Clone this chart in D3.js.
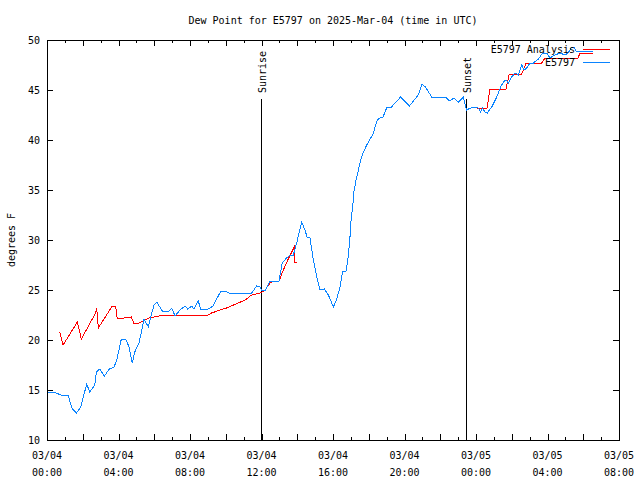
<!DOCTYPE html>
<html>
<head>
<meta charset="utf-8">
<script src="https://cdn.jsdelivr.net/npm/d3@7"></script>
<style>
  html, body { margin: 0; padding: 0; background: #fff; }
  svg { display: block; }
  text { font-family: "DejaVu Sans Mono", "Liberation Mono", monospace; font-size: 10px; fill: #000; }
</style>
</head>
<body>
<svg id="chart" width="640" height="480"></svg>
<script>
// ---- data (hours after 2025-03-04 00:00 UTC) ----
const titleText = "Dew Point for E5797 on 2025-Mar-04 (time in UTC)";
const yLabel = "degrees F";
const obsName = "E5797";
const anaName = "E5797 Analysis";

const obsHours = [0.06,0.39,0.77,0.99,1.17,1.42,1.64,1.89,2.22,2.39,2.67,2.76,2.95,3.21,3.49,3.75,3.90,4.16,4.40,4.59,4.77,4.91,5.15,5.43,5.67,5.83,5.99,6.14,6.45,6.83,6.98,7.16,7.44,7.72,7.87,8.10,8.22,8.46,8.60,9.02,9.30,9.49,9.73,9.96,10.18,11.45,11.73,11.92,12.01,12.22,12.48,12.98,13.16,13.35,13.59,13.78,13.97,14.10,14.25,14.43,14.55,14.71,14.90,15.09,15.27,15.51,15.74,16.02,16.21,16.39,16.53,16.74,16.86,16.95,17.01,17.10,17.17,17.29,17.42,17.55,17.70,17.89,18.07,18.25,18.35,18.48,18.63,18.80,19.02,19.27,19.78,20.27,20.77,20.98,21.17,21.52,22.29,22.53,22.77,23.01,23.29,23.47,23.70,24.09,24.26,24.37,24.50,24.63,24.88,25.16,25.38,25.53,25.68,25.81,26.00,26.18,26.37,26.56,26.69,26.84,27.02,27.21,27.49,27.73,27.96,28.14,28.42,28.70,28.98,29.16,29.35,29.50,29.59,30.53];
const obsDewpt = [14.7,14.8,14.5,14.4,14.5,13.1,12.7,13.3,15.6,14.8,15.5,16.8,17.1,16.4,17.1,17.3,18.0,20.1,20.1,19.3,17.7,18.8,19.7,22.1,21.3,22.5,23.5,23.8,22.9,22.9,23.2,22.4,23.0,23.4,23.1,23.4,23.1,23.9,23.1,23.1,23.4,24.1,24.9,24.9,24.7,24.7,25.4,25.3,25.0,25.0,25.9,25.9,27.7,28.1,28.5,28.5,29.7,30.7,31.8,31.0,30.3,30.2,28.0,26.3,25.0,25.1,24.5,23.3,24.1,25.3,26.8,26.9,28.5,30.3,32.0,33.3,34.8,36.0,37.0,38.0,38.8,39.5,40.1,40.6,41.3,42.0,42.2,42.3,43.3,43.3,44.3,43.4,44.5,45.6,45.3,44.3,44.3,43.9,44.2,43.8,44.3,43.0,43.2,43.3,42.8,43.2,42.8,42.7,43.3,44.3,45.3,45.8,46.0,45.7,46.3,46.7,46.5,47.5,47.0,47.2,47.7,47.7,48.1,48.7,48.7,48.2,48.5,48.7,48.5,48.7,49.3,49.3,48.9,48.9];

const anaHours = [0.71,0.90,1.70,1.92,2.72,2.78,2.87,3.65,3.84,3.93,4.31,4.72,4.87,5.15,5.47,5.71,5.99,6.51,8.37,8.93,9.21,9.68,10.05,10.70,11.08,11.45,11.92,12.20,12.48,12.66,12.98,13.22,13.47,13.69,13.83,13.87,14.00,19.00,24.06,24.62,24.78,25.68,25.86,26.56,26.80,27.68,27.86,29.71,29.82,30.52];
const anaDewpt = [20.8,19.5,21.8,20.1,22.7,23.2,21.2,23.4,23.4,22.1,22.2,22.3,21.6,21.7,22.0,22.2,22.3,22.5,22.5,22.4,22.7,23.0,23.2,23.7,24.0,24.5,24.7,25.0,25.7,25.9,25.9,27.0,28.0,28.8,29.3,27.8,27.8,null,43.2,43.2,45.1,45.1,46.6,46.6,47.7,47.7,48.2,48.2,48.7,48.7];

const sunLabels = ["Sunrise", "Sunset"];
const sunHours = [11.97, 23.44];

const yTicks = [10,15,20,25,30,35,40,45,50];
const xLabelHours = [0,4,8,12,16,20,24,28,32];

// ---- layout ----
const L = 47, R = 619, T = 40, B = 440;
const t0 = Date.UTC(2025, 2, 4, 0, 0);
const toDate = h => new Date(t0 + h * 3600e3);

const svg = d3.select("#chart");
const x = d3.scaleUtc().domain([toDate(0), toDate(32)]).range([L, R]);
const y = d3.scaleLinear().domain([10, 50]).range([B, T]);

// title
svg.append("text").attr("x", (L + R) / 2).attr("y", 24)
  .attr("text-anchor", "middle").text(titleText);

// y axis label
svg.append("text").attr("transform", `translate(15,240) rotate(-90)`)
  .attr("text-anchor", "middle").text(yLabel);

const g = svg.append("g").attr("shape-rendering", "crispEdges");

// x ticks (hourly minor, 2-hourly major), mirrored top and bottom
const hourTicks = d3.range(0, 33).map(toDate);
const len = d => (d.getUTCHours() % 2 === 0 ? 6 : 3);
g.append("g").selectAll("line.xb").data(hourTicks).join("line")
  .attr("x1", d => Math.round(x(d)) + 0.5).attr("x2", d => Math.round(x(d)) + 0.5)
  .attr("y1", B).attr("y2", d => B - len(d)).attr("stroke", "#000");
g.append("g").selectAll("line.xt").data(hourTicks).join("line")
  .attr("x1", d => Math.round(x(d)) + 0.5).attr("x2", d => Math.round(x(d)) + 0.5)
  .attr("y1", T).attr("y2", d => T + len(d)).attr("stroke", "#000");

// y ticks mirrored
g.append("g").selectAll("line").data(yTicks).join("line")
  .attr("x1", L).attr("x2", L + 6)
  .attr("y1", d => Math.round(y(d)) + 0.5).attr("y2", d => Math.round(y(d)) + 0.5).attr("stroke", "#000");
g.append("g").selectAll("line").data(yTicks).join("line")
  .attr("x1", R - 6).attr("x2", R)
  .attr("y1", d => Math.round(y(d)) + 0.5).attr("y2", d => Math.round(y(d)) + 0.5).attr("stroke", "#000");

// y tick labels
svg.append("g").selectAll("text").data(yTicks).join("text")
  .attr("x", L - 7).attr("y", d => y(d) + 4)
  .attr("text-anchor", "end").text(d => d);

// x tick labels (two lines)
const fmtDay = d3.utcFormat("%m/%d"), fmtTime = d3.utcFormat("%H:%M");
const xl = svg.append("g").selectAll("text").data(xLabelHours.map(toDate)).join("text")
  .attr("text-anchor", "middle");
xl.append("tspan").attr("x", d => x(d)).attr("y", 459).text(d => fmtDay(d));
xl.append("tspan").attr("x", d => x(d)).attr("y", 476).text(d => fmtTime(d));

// sunrise / sunset lines
sunHours.forEach((h, i) => {
  const sx = Math.round(x(toDate(h))) + 0.5;
  g.append("line").attr("x1", sx).attr("x2", sx).attr("y1", 99).attr("y2", B)
    .attr("stroke", "#000");
  svg.append("text").attr("transform", `translate(${sx + 4},93) rotate(-90)`)
    .attr("text-anchor", "start").text(sunLabels[i]);
});

// lines
const line = d3.line()
  .defined(d => d[1] !== null)
  .x(d => x(toDate(d[0]))).y(d => y(d[1]));

svg.append("path").datum(anaHours.map((h, i) => [h, anaDewpt[i]]))
  .attr("d", line).attr("fill", "none").attr("stroke", "#ff0000").attr("stroke-width", 1)
  .attr("shape-rendering", "crispEdges");
svg.append("path").datum(obsHours.map((h, i) => [h, obsDewpt[i]]))
  .attr("d", line).attr("fill", "none").attr("stroke", "#0a84ff").attr("stroke-width", 1)
  .attr("shape-rendering", "crispEdges");

// legend
const legend = [[anaName, "#ff0000", 49], [obsName, "#0a84ff", 62]];
legend.forEach(([name, col, ly]) => {
  svg.append("text").attr("x", 575).attr("y", ly + 4).attr("text-anchor", "end").text(name);
  g.append("line").attr("x1", 583).attr("x2", 610).attr("y1", ly + 0.5).attr("y2", ly + 0.5)
    .attr("stroke", col);
});

// border
g.append("rect").attr("x", L + 0.5).attr("y", T + 0.5).attr("width", R - L).attr("height", B - T)
  .attr("fill", "none").attr("stroke", "#000");
</script>
</body>
</html>
